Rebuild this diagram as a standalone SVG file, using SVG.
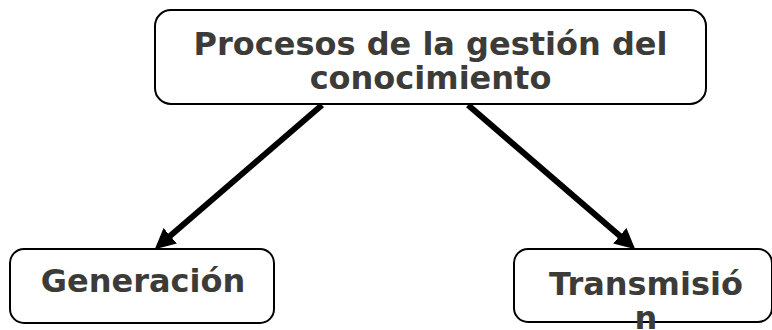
<svg xmlns="http://www.w3.org/2000/svg" width="772" height="330" viewBox="0 0 772 330">
<style>
.box{fill:#fff;stroke:#000;stroke-width:2}
.t{font-family:"DejaVu Sans",sans-serif;font-weight:bold;font-size:32px;fill:#3d3b38;text-anchor:middle}
.c{stroke:#000;stroke-width:6;fill:none}
</style>
<defs>
<marker id="ah" viewBox="0 0 10 10" refX="5" refY="5" markerWidth="3.4" markerHeight="3.4" orient="auto" markerUnits="strokeWidth">
<path d="M0,0 L10,5 L0,10 z" fill="#000"/>
</marker>
</defs>
<rect width="772" height="330" fill="#fff"/>
<g id="connectors">
<line class="c" x1="322" y1="105" x2="162.5" y2="242.5" marker-end="url(#ah)"/>
<line class="c" x1="468" y1="105" x2="627.5" y2="242.5" marker-end="url(#ah)"/>
</g>
<g id="n-procesos">
<rect class="box" x="155" y="10" width="551" height="94" rx="16"/>
<text class="t" x="430.5" y="55">Procesos de la gestión del</text>
<text class="t" x="430.5" y="89">conocimiento</text>
</g>
<g id="n-generacion">
<rect class="box" x="10" y="249" width="264" height="74" rx="14"/>
<text class="t" x="143" y="292">Generación</text>
</g>
<g id="n-transmision">
<rect class="box" x="514" y="249" width="258" height="73" rx="14"/>
<text class="t" x="646" y="295">Transmisió</text>
<text class="t" x="646" y="329">n</text>
</g>
</svg>
